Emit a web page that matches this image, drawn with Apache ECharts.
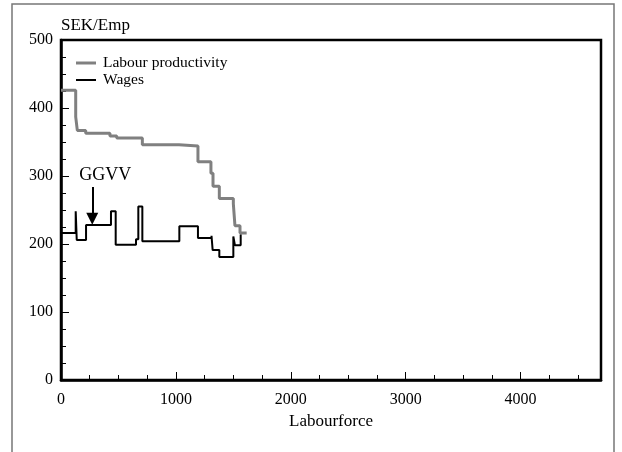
<!DOCTYPE html>
<html>
<head>
<meta charset="utf-8">
<script src="https://cdn.jsdelivr.net/npm/echarts@6/dist/echarts.min.js"></script>
<style>html,body{margin:0;padding:0;background:#fff;}#c{width:622px;height:452px;}</style>
</head>
<body>
<div id="c"></div>
<script>
// Labour productivity (step: value holds from x to next x)
var prodX = [0, 128, 142, 215, 426, 485, 708, 1027, 1192, 1305, 1323, 1378, 1500, 1514, 1558, 1616];
var prodY = [426, 387, 367, 363, 359, 356, 346, 344, 321, 304, 285, 267, 259, 227, 216, 216];
// Wages
var wageX = [0, 128, 137, 218, 435, 476, 653, 673, 708, 1030, 1192, 1310, 1320, 1378, 1500, 1514, 1564];
var wageY = [216, 248, 206, 228, 248, 199, 207, 255, 204, 226, 209, 212, 191, 181, 211, 198, 214];
// x-axis tick labels / y tick labels
var xTicks = [0, 1000, 2000, 3000, 4000];
var yTicks = [0, 100, 200, 300, 400, 500];
// annotation
var annotText = 'GGVV';
var annotX = 272, annotFrom = 284, annotTo = 237;

function zip(a, b) { return a.map(function (v, i) { return [v, b[i]]; }); }

var FONT = 'Liberation Serif';
var chart = echarts.init(document.getElementById('c'), null, { renderer: 'canvas' });
chart.setOption({
  animation: false,
  backgroundColor: '#fff',
  graphic: [{
    type: 'rect', silent: true,
    shape: { x: 12, y: 4, width: 602, height: 470 },
    style: { fill: 'none', stroke: '#777', lineWidth: 1.5 }
  }],
  grid: { left: 61, top: 40, width: 540, height: 340, show: true, borderColor: '#000', borderWidth: 2.5, backgroundColor: 'transparent' },
  legend: [{
    data: ['Labour productivity'], left: 76, top: 55, padding: 0, icon: 'rect', itemWidth: 20, itemHeight: 3,
    selectedMode: false, textStyle: { fontFamily: FONT, fontSize: 15.5, color: '#000', padding: [0, 0, 0, 2] }
  }, {
    data: ['Wages'], left: 76, top: 72, padding: 0, icon: 'rect', itemWidth: 20, itemHeight: 2,
    selectedMode: false, textStyle: { fontFamily: FONT, fontSize: 15.5, color: '#000', padding: [0, 0, 0, 2] }
  }],
  xAxis: [{
    type: 'value', min: 0, max: 4700, interval: 1000,
    name: 'Labourforce', nameLocation: 'middle', nameGap: 27,
    nameTextStyle: { fontFamily: FONT, fontSize: 17, color: '#000' },
    axisLine: { show: true, lineStyle: { color: '#000', width: 2.5 } },
    axisTick: { show: true, inside: true, length: 8, lineStyle: { color: '#000', width: 1 } },
    axisLabel: {
      fontFamily: FONT, fontSize: 16, color: '#000', margin: 12, showMaxLabel: false,
      formatter: function (v) { return xTicks.indexOf(v) >= 0 ? String(v) : ''; }
    },
    splitLine: { show: false }
  }, {
    type: 'value', min: 0, max: 4700, interval: 250, position: 'bottom',
    axisLine: { show: false },
    axisTick: { show: true, inside: true, length: 5, lineStyle: { color: '#000', width: 1 } },
    axisLabel: { show: false }, splitLine: { show: false }
  }],
  yAxis: {
    type: 'value', min: 0, max: 500, interval: 100,
    name: 'SEK/Emp', nameLocation: 'end', nameGap: 6,
    nameTextStyle: { fontFamily: FONT, fontSize: 17, color: '#000', align: 'left', verticalAlign: 'bottom' },
    axisLine: { show: true, lineStyle: { color: '#000', width: 2.5 } },
    axisTick: { show: true, inside: true, length: 8, lineStyle: { color: '#000', width: 1 } },
    minorTick: { show: true, splitNumber: 4, length: 5, lineStyle: { color: '#000', width: 1 } },
    axisLabel: {
      fontFamily: FONT, fontSize: 16, color: '#000', margin: 8,
      formatter: function (v) { return yTicks.indexOf(v) >= 0 ? String(v) : ''; }
    },
    splitLine: { show: false }, minorSplitLine: { show: false }
  },
  series: [{
    name: 'Labour productivity', type: 'line', step: 'end', xAxisIndex: 0,
    data: zip(prodX, prodY), showSymbol: false, symbol: 'none',
    lineStyle: { color: '#808080', width: 3 }, itemStyle: { color: '#808080' }, z: 2
  }, {
    name: 'Wages', type: 'line', step: 'end', xAxisIndex: 0,
    data: zip(wageX, wageY), showSymbol: false, symbol: 'none',
    lineStyle: { color: '#000', width: 2 }, itemStyle: { color: '#000' }, z: 3,
    markLine: {
      silent: true, animation: false,
      symbol: ['none', 'triangle'], symbolSize: [12, 12],
      lineStyle: { color: '#000', width: 2, type: 'solid' },
      label: { show: true, position: 'start', formatter: annotText, fontFamily: FONT, fontSize: 18, color: '#000', distance: 3, offset: [13, 0] },
      data: [[{ coord: [annotX, annotFrom] }, { coord: [annotX, annotTo] }]]
    }
  }]
});
</script>
</body>
</html>
